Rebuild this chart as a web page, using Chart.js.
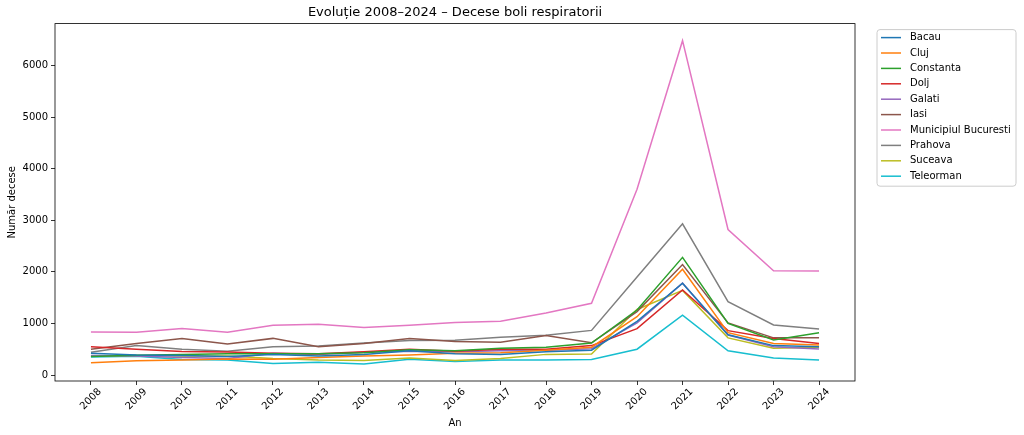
<!DOCTYPE html>
<html>
<head>
<meta charset="utf-8">
<script src="https://cdn.jsdelivr.net/npm/chart.js@4/dist/chart.umd.min.js"></script>
<style>
html,body{margin:0;padding:0;background:#fff;}
#wrap{width:1024px;height:435px;position:relative;}
</style>
</head>
<body>
<div id="wrap"><canvas id="c" width="1024" height="435"></canvas></div>
<script>
const years = [2008,2009,2010,2011,2012,2013,2014,2015,2016,2017,2018,2019,2020,2021,2022,2023,2024];
const bacau      = [420, 390, 380, 360, 400, 370, 400, 470, 410, 400, 450, 480, 1040, 1780, 780, 570, 550];
const cluj       = [240, 275, 290, 310, 305, 340, 370, 390, 420, 430, 480, 540, 1130, 2050, 820, 610, 580];
const constanta  = [360, 385, 400, 410, 410, 410, 430, 490, 470, 520, 540, 620, 1260, 2280, 1000, 680, 820];
const dolj       = [548, 500, 455, 445, 420, 410, 450, 500, 460, 500, 500, 570, 900, 1650, 860, 710, 610];
const galati     = [380, 370, 340, 320, 420, 400, 440, 460, 450, 470, 480, 510, 1010, 1780, 775, 550, 505];
const iasi       = [500, 610, 710, 600, 710, 550, 610, 710, 650, 635, 765, 625, 1230, 2140, 1010, 720, 720];
const bucuresti  = [835, 830, 900, 830, 965, 985, 920, 965, 1020, 1040, 1200, 1390, 3600, 6480, 2820, 2020, 2015];
const prahova    = [440, 570, 500, 460, 550, 560, 620, 670, 675, 730, 770, 865, 1900, 2930, 1420, 970, 890];
const suceava    = [370, 380, 370, 370, 320, 290, 280, 330, 280, 320, 400, 405, 1270, 1640, 720, 520, 540];
const teleorman  = [350, 365, 300, 290, 225, 245, 215, 305, 260, 290, 290, 300, 500, 1160, 470, 330, 290];
const seriesNames = ['Bacau','Cluj','Constanta','Dolj','Galati','Iasi','Municipiul Bucuresti','Prahova','Suceava','Teleorman'];
const seriesValues = [bacau, cluj, constanta, dolj, galati, iasi, bucuresti, prahova, suceava, teleorman];
const colors = ['#1f77b4','#ff7f0e','#2ca02c','#d62728','#9467bd','#8c564b','#e377c2','#7f7f7f','#bcbd22','#17becf'];
const yTicks = [0,1000,2000,3000,4000,5000,6000];
const titleText = 'Evoluție 2008–2024 – Decese boli respiratorii';
const xTitle = 'An';
const yTitle = 'Număr decese';

const FONT = "'DejaVu Sans', sans-serif";

const datasets = seriesNames.map((name, i) => ({
  label: name,
  data: years.map((yr, j) => ({x: yr, y: seriesValues[i][j]})),
  borderColor: colors[i],
  backgroundColor: colors[i],
  borderWidth: 1.5,
  pointRadius: 0,
  tension: 0,
  fill: false
}));

const framePlugin = {
  id: 'frame',
  afterDraw(chart) {
    const a = chart.chartArea, ctx = chart.ctx;
    ctx.save();
    ctx.strokeStyle = '#000';
    ctx.lineWidth = 0.8;
    ctx.strokeRect(a.left, a.top, a.right - a.left, a.bottom - a.top);
    ctx.restore();
  }
};

const legendPlugin = {
  id: 'customLegend',
  afterDraw(chart) {
    const ctx = chart.ctx;
    const a = chart.chartArea;
    const x0 = a.right + 22, y0 = a.top + 6;
    const w = 139, rowH = 15.4;
    const n = chart.data.datasets.length;
    const h = 8 + (n - 1) * rowH + 10;
    ctx.save();
    ctx.fillStyle = 'rgba(255,255,255,0.8)';
    ctx.strokeStyle = '#cccccc';
    ctx.lineWidth = 1;
    const r = 3;
    ctx.beginPath();
    ctx.moveTo(x0 + r, y0);
    ctx.lineTo(x0 + w - r, y0);
    ctx.arcTo(x0 + w, y0, x0 + w, y0 + r, r);
    ctx.lineTo(x0 + w, y0 + h - r);
    ctx.arcTo(x0 + w, y0 + h, x0 + w - r, y0 + h, r);
    ctx.lineTo(x0 + r, y0 + h);
    ctx.arcTo(x0, y0 + h, x0, y0 + h - r, r);
    ctx.lineTo(x0, y0 + r);
    ctx.arcTo(x0, y0, x0 + r, y0, r);
    ctx.closePath();
    ctx.fill();
    ctx.stroke();
    ctx.font = '10px ' + FONT;
    ctx.textBaseline = 'middle';
    ctx.textAlign = 'left';
    chart.data.datasets.forEach((ds, i) => {
      const cy = y0 + 8 + i * rowH;
      ctx.strokeStyle = ds.borderColor;
      ctx.lineWidth = 1.5;
      ctx.beginPath();
      ctx.moveTo(x0 + 4, cy);
      ctx.lineTo(x0 + 24, cy);
      ctx.stroke();
      ctx.fillStyle = '#000';
      ctx.fillText(ds.label, x0 + 33, cy);
    });
    ctx.restore();
  }
};

new Chart(document.getElementById('c'), {
  type: 'line',
  data: { datasets },
  options: {
    responsive: false,
    animation: false,
    devicePixelRatio: 1,
    layout: { padding: { left: 0, right: 169, top: 0, bottom: 0 } },
    plugins: {
      legend: { display: false },
      tooltip: { enabled: false },
      title: {
        display: true,
        fullSize: false,
        text: titleText,
        color: '#000',
        font: { family: FONT, size: 13, weight: 'normal' },
        padding: { top: 5, bottom: 3 }
      }
    },
    scales: {
      x: {
        type: 'linear',
        min: 2007.21,
        max: 2024.79,
        afterBuildTicks(scale) { scale.ticks = years.map(v => ({ value: v })); },
        afterFit(scale) { scale.height = 54; },
        grid: { display: true, drawOnChartArea: false, drawTicks: true, tickLength: 4, color: '#000', lineWidth: 0.8 },
        border: { display: false },
        ticks: {
          autoSkip: false,
          maxRotation: 45,
          minRotation: 45,
          labelOffset: 9,
          padding: 1,
          color: '#000',
          font: { family: FONT, size: 10 },
          callback: (v) => String(v)
        },
        title: {
          display: true,
          text: xTitle,
          color: '#000',
          font: { family: FONT, size: 10 },
          padding: { top: 0, bottom: 6 }
        }
      },
      y: {
        type: 'linear',
        min: -116,
        max: 6811,
        afterBuildTicks(scale) { scale.ticks = yTicks.map(v => ({ value: v })); },
        afterFit(scale) { scale.width = 55; },
        grid: { display: true, drawOnChartArea: false, drawTicks: true, tickLength: 4, color: '#000', lineWidth: 0.8 },
        border: { display: false },
        ticks: {
          padding: 3,
          color: '#000',
          font: { family: FONT, size: 10 },
          callback: (v) => String(v)
        },
        title: {
          display: true,
          text: yTitle,
          color: '#000',
          font: { family: FONT, size: 10 },
          padding: { top: 6, bottom: 0 }
        }
      }
    }
  },
  plugins: [framePlugin, legendPlugin]
});
</script>
</body>
</html>
